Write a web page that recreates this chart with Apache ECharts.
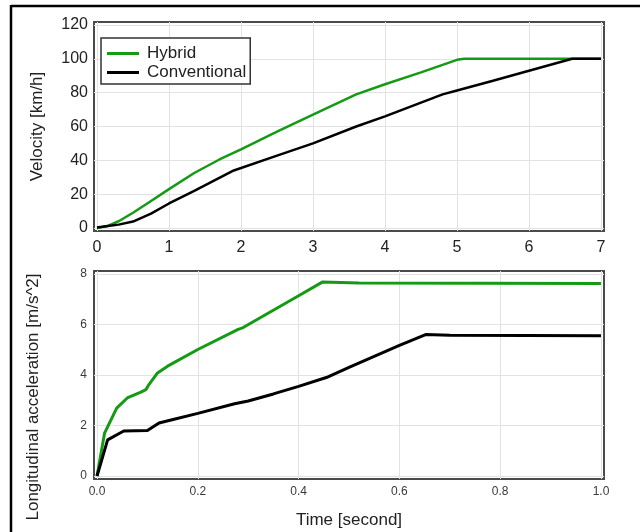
<!DOCTYPE html>
<html><head><meta charset="utf-8">
<script src="https://cdn.jsdelivr.net/npm/echarts@6/dist/echarts.min.js"></script>
<style>html,body{margin:0;padding:0;background:#fff}#c{width:640px;height:532px}</style>
</head><body><div id="c"></div>
<script>
// Velocity panel
const hybVelTime = [0,0.15,0.3,0.5,0.75,1.0,1.35,1.7,2.0,2.5,3.0,3.6,4.0,4.5,5.0,5.1,6.0,7.0];
const hybVel     = [0,1.2,4,9,16,23,32.5,40.5,46.5,57,67,79,85,92,99.4,100,100,100];
const conVelTime = [0,0.15,0.3,0.5,0.75,1.0,1.35,1.9,2.5,3.0,3.6,4.0,4.8,5.0,5.5,6.0,6.6,7.0];
const conVel     = [0.3,1.2,2,3.8,8.5,14.5,22,34,42.8,50,60,66,79,81.3,87,93,100,100];
// Acceleration panel
const hybAccTime = [0,0.015,0.039,0.06,0.087,0.097,0.103,0.12,0.14,0.2,0.28,0.29,0.4,0.447,0.52,1.0];
const hybAcc     = [0,1.7,2.69,3.09,3.32,3.42,3.62,4.08,4.35,5.01,5.81,5.88,7.14,7.68,7.64,7.62];
const conAccTime = [0,0.021,0.053,0.1,0.123,0.153,0.2,0.273,0.3,0.35,0.4,0.455,0.5,0.6,0.652,0.7,1.0];
const conAcc     = [0,1.43,1.78,1.80,2.10,2.25,2.48,2.86,2.97,3.25,3.55,3.9,4.3,5.17,5.6,5.57,5.55];
// Tick labels
const velXTicks = [0,1,2,3,4,5,6,7];
const velYTicks = [0,20,40,60,80,100,120];
const accXTicks = [0,0.2,0.4,0.6,0.8,1.0];
const accYTicks = [0,2,4,6,8];

const pairs = (xs, ys) => xs.map((x, i) => [x, ys[i]]);
const GREEN = '#149b14', BLACK = '#000000';
const FONT = 'Liberation Sans, Arial, sans-serif';

const chart = echarts.init(document.getElementById('c'), null, {renderer: 'canvas'});
const gridBase = {show: true, borderColor: '#4a4a4a', borderWidth: 2, backgroundColor: '#fff'};
const split = {show: true, lineStyle: {color: '#e2e2e2', width: 1}};
chart.setOption({
  animation: false,
  textStyle: {fontFamily: FONT},
  grid: [
    Object.assign({left: 94, top: 22, width: 510, height: 209}, gridBase),
    Object.assign({left: 94, top: 271, width: 510, height: 208}, gridBase)
  ],
  legend: {
    left: 101, top: 38, orient: 'vertical',
    data: ['Hybrid', 'Conventional'],
    icon: 'rect',
    borderColor: '#333', borderWidth: 1.5, borderRadius: 0,
    padding: [7, 4, 3, 6], itemGap: 2,
    itemWidth: 32, itemHeight: 3,
    textStyle: {fontSize: 17, color: '#222', fontFamily: FONT, padding: [0, 0, 0, 3], lineHeight: 17},
    backgroundColor: '#fff'
  },
  xAxis: [
    {gridIndex: 0, type: 'value', min: -0.042, max: 7.042,
     axisLine: {show: false}, axisTick: {show: false, customValues: velXTicks},
     axisLabel: {customValues: velXTicks, fontSize: 16, color: '#222', margin: 9, fontFamily: FONT},
     splitLine: split},
    {gridIndex: 1, type: 'value', min: -0.006, max: 1.006,
     axisLine: {show: false}, axisTick: {show: false, customValues: accXTicks},
     axisLabel: {customValues: accXTicks, fontSize: 12, color: '#3a3a3a', margin: 7, fontFamily: FONT,
       formatter: v => v.toFixed(1)},
     splitLine: split,
     name: 'Time [second]', nameLocation: 'middle', nameGap: 33,
     nameTextStyle: {fontSize: 17, color: '#222', fontFamily: FONT}}
  ],
  yAxis: [
    {gridIndex: 0, type: 'value', min: -1.77, max: 121.77,
     axisLine: {show: false}, axisTick: {show: false, customValues: velYTicks},
     axisLabel: {customValues: velYTicks, fontSize: 16, color: '#222', margin: 6, fontFamily: FONT},
     splitLine: split,
     name: 'Velocity [km/h]', nameLocation: 'middle', nameGap: 48,
     nameTextStyle: {fontSize: 17, color: '#222', fontFamily: FONT}},
    {gridIndex: 1, type: 'value', min: -0.12, max: 8.12,
     axisLine: {show: false}, axisTick: {show: false, customValues: accYTicks},
     axisLabel: {customValues: accYTicks, fontSize: 12, color: '#3a3a3a', margin: 7, fontFamily: FONT},
     splitLine: split,
     name: 'Longitudinal acceleration [m/s^2]', nameLocation: 'middle', nameGap: 52,
     nameTextStyle: {fontSize: 17, color: '#222', fontFamily: FONT, padding: [0, 44, 0, 0]}}
  ],
  series: [
    {name: 'Hybrid', type: 'line', xAxisIndex: 0, yAxisIndex: 0, data: pairs(hybVelTime, hybVel),
     symbol: 'none', lineStyle: {color: GREEN, width: 2.5}, itemStyle: {color: GREEN}},
    {name: 'Conventional', type: 'line', xAxisIndex: 0, yAxisIndex: 0, data: pairs(conVelTime, conVel),
     symbol: 'none', lineStyle: {color: BLACK, width: 2.5}, itemStyle: {color: BLACK}},
    {name: 'Hybrid', type: 'line', xAxisIndex: 1, yAxisIndex: 1, data: pairs(hybAccTime, hybAcc),
     symbol: 'none', lineStyle: {color: GREEN, width: 3}, itemStyle: {color: GREEN}},
    {name: 'Conventional', type: 'line', xAxisIndex: 1, yAxisIndex: 1, data: pairs(conAccTime, conAcc),
     symbol: 'none', lineStyle: {color: BLACK, width: 3}, itemStyle: {color: BLACK}}
  ],
  graphic: [
    {type: 'line', shape: {x1: 11, y1: 6, x2: 640, y2: 6}, style: {stroke: '#000', lineWidth: 2.5}, z: 100},
    {type: 'line', shape: {x1: 11, y1: 5, x2: 11, y2: 532}, style: {stroke: '#000', lineWidth: 2.5}, z: 100}
  ]
});
</script></body></html>
